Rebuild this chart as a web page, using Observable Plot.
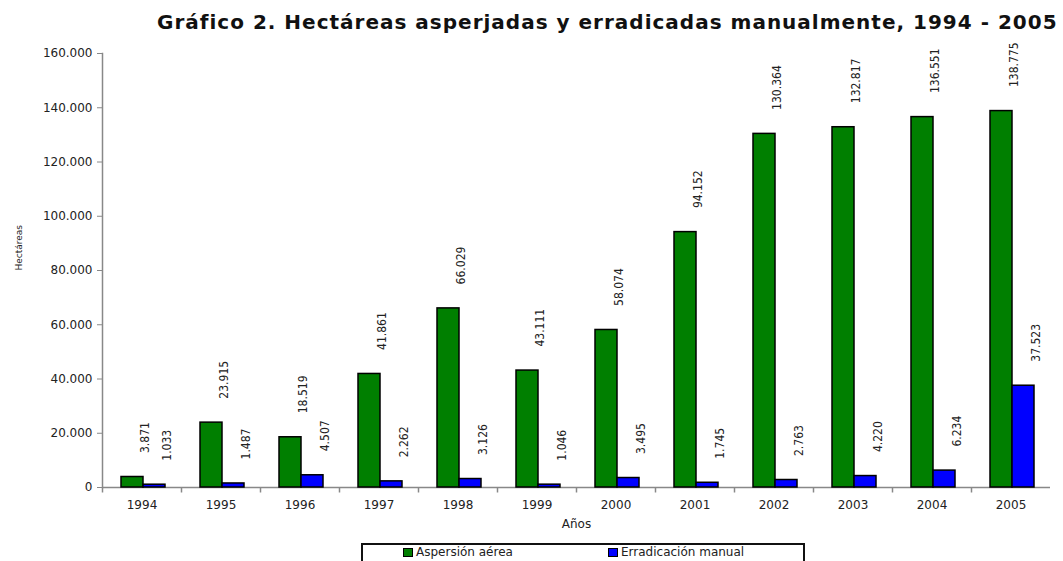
<!DOCTYPE html>
<html>
<head>
<meta charset="utf-8">
<script src="https://cdn.jsdelivr.net/npm/d3@7"></script>
<script src="https://cdn.jsdelivr.net/npm/@observablehq/plot@0.6"></script>
<style>
  body { margin: 0; background: #fff; width: 1063px; height: 561px; overflow: hidden; position: relative; font-family: "DejaVu Sans", sans-serif; }
  #title { position: absolute; left: 157px; top: 10px; white-space: nowrap; font: bold 20px "DejaVu Sans", sans-serif; letter-spacing: 1px; color: #111; }
  #chart { position: absolute; left: 0; top: 40px; }
  #legend { position: absolute; left: 361px; top: 543px; width: 440px; height: 30px; border: 2px solid #111; }
  .item { position: absolute; top: 1px; display: flex; align-items: center; font-size: 12px; line-height: 13px; color: #222; white-space: nowrap; }
  .sw { width: 8px; height: 7px; border: 1px solid #000; margin-right: 3px; }
</style>
</head>
<body>
<div id="title">Gráfico 2. Hectáreas asperjadas y erradicadas manualmente, 1994 - 2005</div>
<div id="chart"></div>
<div id="legend"></div>
<script>
const years = ["1994","1995","1996","1997","1998","1999","2000","2001","2002","2003","2004","2005"];
const seriesNames = ["Aspersión aérea", "Erradicación manual"];
const aspersion = [3871, 23915, 18519, 41861, 66029, 43111, 58074, 94152, 130364, 132817, 136551, 138775];
const erradicacion = [1033, 1487, 4507, 2262, 3126, 1046, 3495, 1745, 2763, 4220, 6234, 37523];
const yTicks = [0, 20000, 40000, 60000, 80000, 100000, 120000, 140000, 160000];
const colors = ["#007f00", "#0000ff"];

const data = years.flatMap((yr, i) => [
  {year: yr, series: seriesNames[0], value: aspersion[i]},
  {year: yr, series: seriesNames[1], value: erradicacion[i]}
]);

const loc = d3.formatLocale({decimal: ",", thousands: ".", grouping: [3], currency: ["", ""]});
const fmt = loc.format(",d");
const tickShape = {draw(ctx) { ctx.moveTo(0, 0); ctx.lineTo(0, 5); }};

const plot = Plot.plot({
  width: 1063, height: 500,
  marginTop: 13, marginBottom: 53, marginLeft: 100, marginRight: 11,
  style: {fontFamily: '"DejaVu Sans", sans-serif', fontSize: "12px", color: "#222", background: "white"},
  fx: {domain: years, padding: 0, label: null},
  x: {domain: seriesNames, paddingInner: 0, paddingOuter: 0.76, align: 0.55, axis: null},
  y: {domain: [0, 160000], axis: null},
  color: {domain: seriesNames, range: colors},
  marks: [
    Plot.ruleY([0], {stroke: "#888", strokeWidth: 1.5}),
    Plot.frame({anchor: "left", facetAnchor: "left", stroke: "#888", strokeWidth: 1.5}),
    Plot.barY(data, {fx: "year", x: "series", y: "value", fill: "series", stroke: "#000", strokeWidth: 1.5}),
    Plot.text(data, {fx: "year", x: "series", y: "value", text: d => fmt(d.value), rotate: -90,
      textAnchor: "start", lineAnchor: "middle", dx: 13, dy: -24,
      fontFamily: '"Liberation Sans Narrow", "DejaVu Sans Condensed", sans-serif', fontSize: 12, fill: "#222"}),
    Plot.dot(years, {fx: d => d, x: null, y: null, frameAnchor: "bottom-left", symbol: tickShape,
      stroke: "#888", strokeWidth: 1.5, fill: "none"}),
    Plot.axisY({ticks: yTicks, tickFormat: fmt, tickSize: 5, tickPadding: 5, stroke: "#888", fill: "#222", fontSize: 12, label: null}),
    Plot.text(["Hectáreas"], {frameAnchor: "left", facetAnchor: "left", rotate: -90, dx: -83, fontSize: 9, fill: "#222"}),
    Plot.axisFx({anchor: "bottom", tickSize: 0, tickPadding: 13, fontSize: 12, label: "Años", labelAnchor: "center", labelOffset: 40})
  ]
});
document.getElementById("chart").appendChild(plot);

const legend = document.getElementById("legend");
const lefts = [40, 245];
seriesNames.forEach((name, i) => {
  const item = document.createElement("div");
  item.className = "item";
  item.style.left = lefts[i] + "px";
  const sw = document.createElement("span");
  sw.className = "sw";
  sw.style.background = colors[i];
  item.appendChild(sw);
  item.appendChild(document.createTextNode(name));
  legend.appendChild(item);
});
</script>
</body>
</html>
